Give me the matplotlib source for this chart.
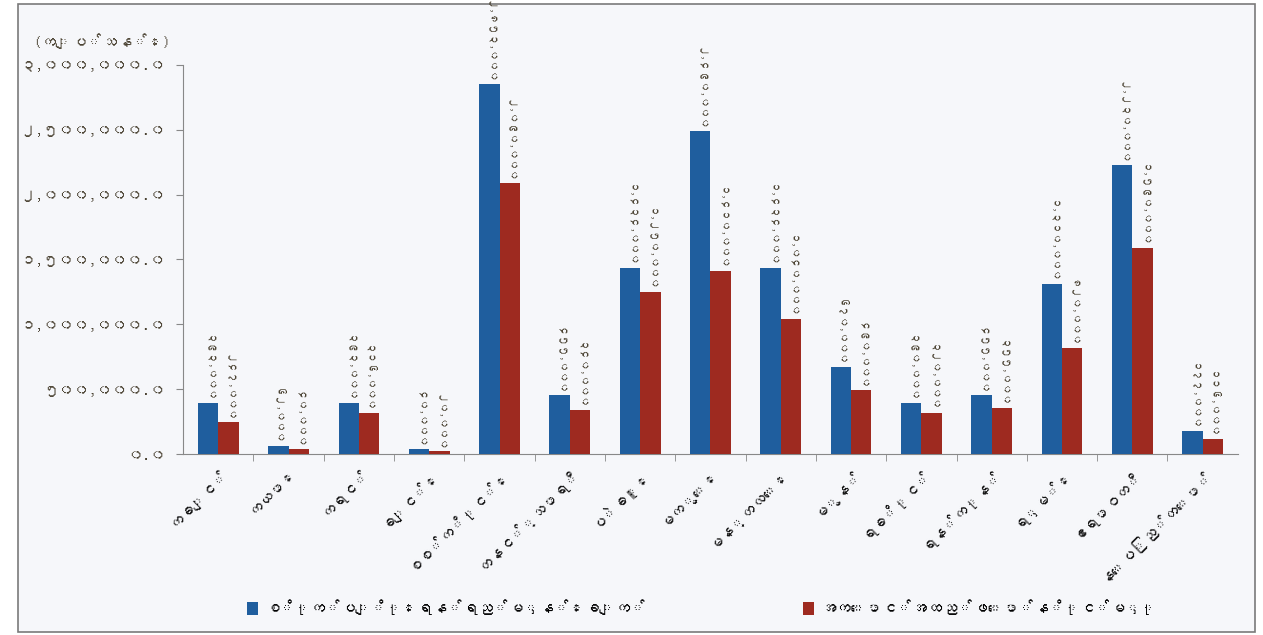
import matplotlib
matplotlib.use("Agg")
import matplotlib.pyplot as plt
from matplotlib import font_manager as fm
from matplotlib.ft2font import FT2Font
from matplotlib.patches import Rectangle

# ---- data ----
categories = ["ကချင်", "ကယား", "ကရင်", "ချင်း", "စစ်ကိုင်း", "တနင်္သာရီ", "ပဲခူး",
              "မကွေး", "မန္တလေး", "မွန်", "ရခိုင်", "ရန်ကုန်", "ရှမ်း", "ဧရာဝတီ", "နေပြည်တော်"]
target = [393000.0, 62000.0, 393000.0, 40000.0, 2853000.0, 455000.0, 1434000.0,
          2490000.0, 1434000.0, 670000.0, 390000.0, 455000.0, 1310000.0, 2230000.0, 177000.0]
achieved = [247000.0, 40000.0, 316000.0, 20000.0, 2090000.0, 340000.0, 1250000.0,
            1410000.0, 1040000.0, 490000.0, 320000.0, 355000.0, 820000.0, 1590000.0, 116000.0]
series_names = ["စိုက်ပျိုးရန်ရည်မှန်းချက်", "အကောင်အထည်ဖော်နိုင်မှု"]
yticks = [0, 500000, 1000000, 1500000, 2000000, 2500000, 3000000]
unit_label = "(ကျပ်သန်း)"

# ---- font discovery for Myanmar ----
mm_family = None
for path in fm.findSystemFonts():
    try:
        if 0x1000 in FT2Font(path).get_charmap():
            mm_family = fm.FontProperties(fname=path).get_name()
            fm.fontManager.addfont(path)
            break
    except Exception:
        pass
families = ([mm_family] if mm_family else []) + ["DejaVu Sans"]
plt.rcParams["font.family"] = families

MM_DIGITS = str.maketrans("0123456789", "၀၁၂၃၄၅၆၇၈၉")
def mm_num(v, dec=1):
    return f"{v:,.{dec}f}".translate(MM_DIGITS)

blue = "#1f5e9e"
red = "#9e2a20"
text_col = "#4a4232"

fig = plt.figure(figsize=(12.63, 6.35), dpi=100)
fig.patch.set_facecolor("#ffffff")
fig.patches.append(Rectangle((0.014, 0.004), 0.98, 0.99, transform=fig.transFigure,
                             fill=True, facecolor="#f6f7fa", edgecolor="#7a7a7a", lw=1.2, zorder=-10))
ax = fig.add_axes([0.145, 0.285, 0.835, 0.613])
ax.set_facecolor("none")

n = len(categories)
x = list(range(n))
w = 0.29
ax.bar([i - w / 2 for i in x], target, width=w, color=blue, label=series_names[0], zorder=3)
ax.bar([i + w / 2 for i in x], achieved, width=w, color=red, label=series_names[1], zorder=3)

for i in x:
    ax.text(i - w / 2, target[i] + 6000, mm_num(target[i], 0), rotation=270,
            ha="center", va="bottom", fontsize=7.5, color=text_col)
    ax.text(i + w / 2, achieved[i] + 6000, mm_num(achieved[i], 0), rotation=270,
            ha="center", va="bottom", fontsize=7.5, color=text_col)

ax.set_xlim(-0.5, n - 0.5)
ax.set_ylim(0, 3000000)
ax.set_yticks(yticks)
ax.set_yticklabels([mm_num(v) for v in yticks], fontsize=11, fontweight="bold", color=text_col)
ax.set_xticks(x)
ax.set_xticklabels(categories, rotation=45, ha="right", rotation_mode="anchor",
                   fontsize=11, fontweight="bold", color="#111111")
ax.tick_params(axis="x", length=0, pad=8)
ax.set_xticks([i + 0.5 for i in range(n - 1)], minor=True)
ax.tick_params(axis="x", which="minor", length=5, color="#888888")
ax.tick_params(axis="y", length=5, color="#888888", pad=8)
for s in ["top", "right"]:
    ax.spines[s].set_visible(False)
for s in ["left", "bottom"]:
    ax.spines[s].set_color("#888888")

fig.text(0.135, 0.935, unit_label, ha="right", va="center",
         fontsize=11, fontweight="bold", color=text_col)

h, l = ax.get_legend_handles_labels()
fig.legend(h[:1], l[:1], loc="center left", bbox_to_anchor=(0.185, 0.043), frameon=False,
           handlelength=0.7, handleheight=0.9, handletextpad=0.4,
           prop={"weight": "bold", "size": 11})
fig.legend(h[1:], l[1:], loc="center left", bbox_to_anchor=(0.625, 0.043), frameon=False,
           handlelength=0.7, handleheight=0.9, handletextpad=0.4,
           prop={"weight": "bold", "size": 11})

fig.savefig("out.png", dpi=100)
